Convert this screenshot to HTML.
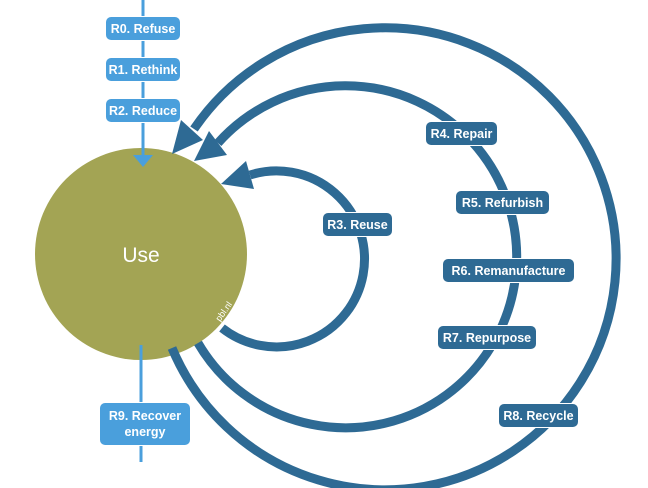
<!DOCTYPE html>
<html><head><style>
body{margin:0;width:648px;height:488px;background:#fff;overflow:hidden;position:relative;font-family:"Liberation Sans",sans-serif}
.l{position:absolute;color:#fff;font-size:12.5px;font-weight:bold;border-radius:6px;display:flex;align-items:center;justify-content:center;text-align:center;line-height:16px;border:1px solid #fff}
.a{background:#4a9fdc}.d{background:#2e6a94}
</style></head><body>
<svg width="648" height="488" style="position:absolute;left:0;top:0">
<circle cx="141" cy="254" r="106" fill="#a3a454"/>
<line x1="143" y1="0" x2="143" y2="158" stroke="#4a9fdc" stroke-width="3"/>
<polygon points="133,155 153,155 143,167" fill="#4a9fdc"/>
<line x1="141" y1="345" x2="141" y2="462" stroke="#4a9fdc" stroke-width="3"/>
<g fill="none" stroke="#2e6a94" stroke-width="9">
<path d="M170,350 A231,231 0 1 0 192,131" transform="translate(2,-2)"/>
<path d="M198,343 A171,171 0 1 0 218,143"/>
<path d="M222,328 A88,88 0 1 0 250,175"/>
</g>
<g fill="#2e6a94">
<polygon points="172,154 203,140 181,120"/>
<polygon points="194,161 227,155 209,131"/>
<polygon points="221,184 254,189 246,161"/>
</g>
<text x="141" y="262" fill="#fff" font-size="21" text-anchor="middle" font-family="Liberation Sans,sans-serif">Use</text>
<text x="0" y="0" fill="#fff" font-size="9" transform="translate(220,322) rotate(-55)" font-family="Liberation Sans,sans-serif">pbl.nl</text>
</svg>
<div class="l a" style="left:105px;top:16px;width:74px;height:23px">R0. Refuse</div>
<div class="l a" style="left:105px;top:57px;width:74px;height:23px">R1. Rethink</div>
<div class="l a" style="left:105px;top:98px;width:74px;height:23px">R2. Reduce</div>
<div class="l a" style="left:99px;top:402px;width:90px;height:42px">R9. Recover<br>energy</div>
<div class="l d" style="left:322px;top:212px;width:69px;height:23px">R3. Reuse</div>
<div class="l d" style="left:425px;top:121px;width:71px;height:23px">R4. Repair</div>
<div class="l d" style="left:455px;top:190px;width:93px;height:23px">R5. Refurbish</div>
<div class="l d" style="left:442px;top:258px;width:131px;height:23px">R6. Remanufacture</div>
<div class="l d" style="left:437px;top:325px;width:98px;height:23px">R7. Repurpose</div>
<div class="l d" style="left:498px;top:403px;width:79px;height:23px">R8. Recycle</div>
</body></html>
